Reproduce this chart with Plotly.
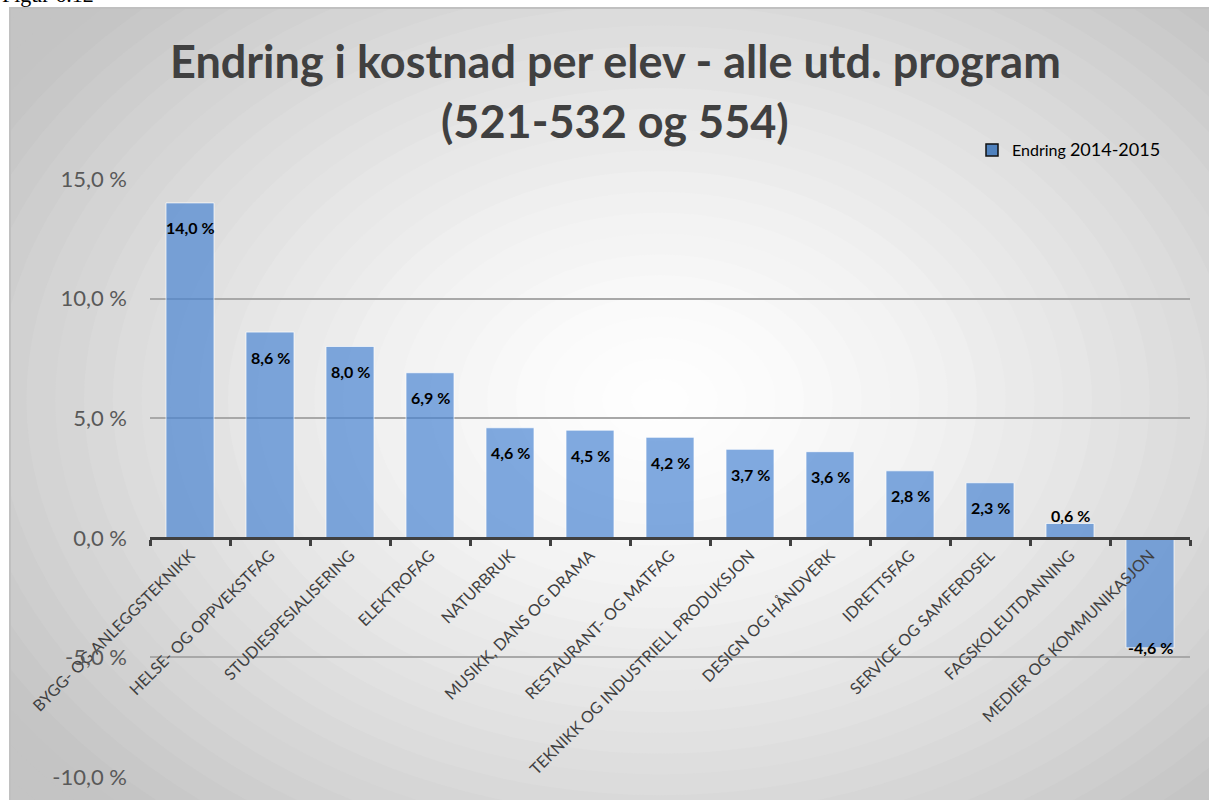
import plotly.graph_objects as go

categories = [
    "BYGG- OG ANLEGGSTEKNIKK", "HELSE- OG OPPVEKSTFAG", "STUDIESPESIALISERING",
    "ELEKTROFAG", "NATURBRUK", "MUSIKK, DANS OG DRAMA", "RESTAURANT- OG MATFAG",
    "TEKNIKK OG INDUSTRIELL PRODUKSJON", "DESIGN OG HÅNDVERK", "IDRETTSFAG",
    "SERVICE OG SAMFERDSEL", "FAGSKOLEUTDANNING", "MEDIER OG KOMMUNIKASJON",
]
values = [14.0, 8.6, 8.0, 6.9, 4.6, 4.5, 4.2, 3.7, 3.6, 2.8, 2.3, 0.6, -4.6]
y_ticks = [-10, -5, 0, 5, 10, 15]
y_ticktext = ["-10,0 %", "-5,0 %", "0,0 %", "5,0 %", "10,0 %", "15,0 %"]
series_name = "Endring <span style='font-size:18px'>2014-2015</span>"
title_line1 = "Endring i kostnad per elev - alle utd. program"
title_line2 = "(521-532 og 554)"
fig_caption = "Figur 6.12"

W, H = 1209, 800
L, R, T, B = 150, 19, 179, 23
PW, PH = W - L - R, H - T - B


def px2x(px):
    return (px - L) / PW


def py2y(py):
    return (H - B - py) / PH


fig = go.Figure()

fig.add_trace(go.Bar(
    x=categories, y=values, showlegend=False,
    marker=dict(color="rgba(70,130,210,0.68)",
                line=dict(color="rgba(255,255,255,0.7)", width=1)),
    hoverinfo="x+y",
))
# legend entry
fig.add_trace(go.Bar(
    x=[categories[0]], y=[None], name=series_name, showlegend=True,
    marker=dict(color="#4f81bd", line=dict(color="#111111", width=1.5)),
))

# background radial gradient
shapes = []
cx, cy, rx, ry = 660, 400, 720, 520
n = 40
for k in range(n):
    r = 1.6 * (1 - k / n)
    c = int(round(255 - 52 * min(r, 1.4) ** 1.4))
    c = max(196, min(255, c))
    shapes.append(dict(
        type="circle", xref="paper", yref="paper", layer="below",
        x0=px2x(cx - rx * r), x1=px2x(cx + rx * r),
        y0=py2y(cy + ry * r), y1=py2y(cy - ry * r),
        fillcolor=f"rgb({c},{c},{c})", line=dict(width=0),
    ))
# white outside frame
shapes.append(dict(type="rect", xref="paper", yref="paper", layer="below",
                   x0=px2x(-5), x1=px2x(10), y0=py2y(820), y1=py2y(-20),
                   fillcolor="white", line=dict(width=0)))
shapes.append(dict(type="rect", xref="paper", yref="paper", layer="below",
                   x0=px2x(-5), x1=px2x(1230), y0=py2y(8), y1=py2y(-20),
                   fillcolor="white", line=dict(width=0)))
shapes.append(dict(type="rect", xref="paper", yref="paper", layer="below",
                   x0=px2x(10), x1=px2x(1230), y0=py2y(820), y1=py2y(8),
                   fillcolor="rgba(0,0,0,0)", line=dict(color="#c0c0c0", width=2)))

annotations = []
for cat, v in zip(categories, values):
    if v >= 1:
        ys = -25
    elif v >= 0:
        ys = 8
    else:
        ys = 0
    annotations.append(dict(
        x=cat, y=v, xref="x", yref="y", yshift=ys, showarrow=False,
        text="<b>" + f"{v:.1f}".replace(".", ",") + " %</b>",
        font=dict(family="Lato, Open Sans, sans-serif", size=16, color="black"),
        xanchor="center", yanchor="middle",
    ))
annotations.append(dict(
    x=px2x(615), y=py2y(61), xref="paper", yref="paper", showarrow=False,
    text=f"<b>{title_line1}</b>", xanchor="center", yanchor="middle",
    font=dict(family="Lato, Open Sans, sans-serif", size=45, color="#404040"),
))
annotations.append(dict(
    x=px2x(615), y=py2y(121), xref="paper", yref="paper", showarrow=False,
    text=f"<b>{title_line2}</b>", xanchor="center", yanchor="middle",
    font=dict(family="Lato, Open Sans, sans-serif", size=45, color="#404040"),
))
annotations.append(dict(
    x=px2x(0), y=py2y(9), xref="paper", yref="paper", showarrow=False,
    text=fig_caption, xanchor="left", yanchor="bottom",
    font=dict(family="Liberation Serif, serif", size=22, color="black"),
))

fig.update_layout(
    width=W, height=H,
    margin=dict(l=L, r=R, t=T, b=B, autoexpand=False),
    paper_bgcolor="white", plot_bgcolor="rgba(0,0,0,0)",
    bargap=0.4, barmode="overlay",
    shapes=shapes, annotations=annotations,
    showlegend=True,
    legend=dict(x=px2x(972), y=py2y(133), xanchor="left", yanchor="top",
                bgcolor="rgba(0,0,0,0)",
                font=dict(family="Lato, Open Sans, sans-serif", size=16, color="black")),
    xaxis=dict(
        type="category", anchor="free", position=0.4,
        showline=True, linecolor="#404040", linewidth=3,
        ticks="outside", tickson="boundaries", ticklen=6, tickwidth=3, tickcolor="#404040",
        tickangle=-45, showgrid=False,
        tickfont=dict(family="Lato, Open Sans, sans-serif", size=16, color="#404040"),
    ),
    yaxis=dict(
        range=[-10, 15], tickvals=y_ticks, ticktext=y_ticktext,
        showgrid=True, gridcolor="#a8a8a8", gridwidth=1.5,
        zeroline=False, showline=False, ticks="",
        ticklabelstandoff=22,
        tickfont=dict(family="Lato, Open Sans, sans-serif", size=22, color="#595959"),
    ),
)

fig.write_html("out.html", config={"displayModeBar": False},
               post_script="document.body.style.margin='0';document.body.style.padding='0';")
